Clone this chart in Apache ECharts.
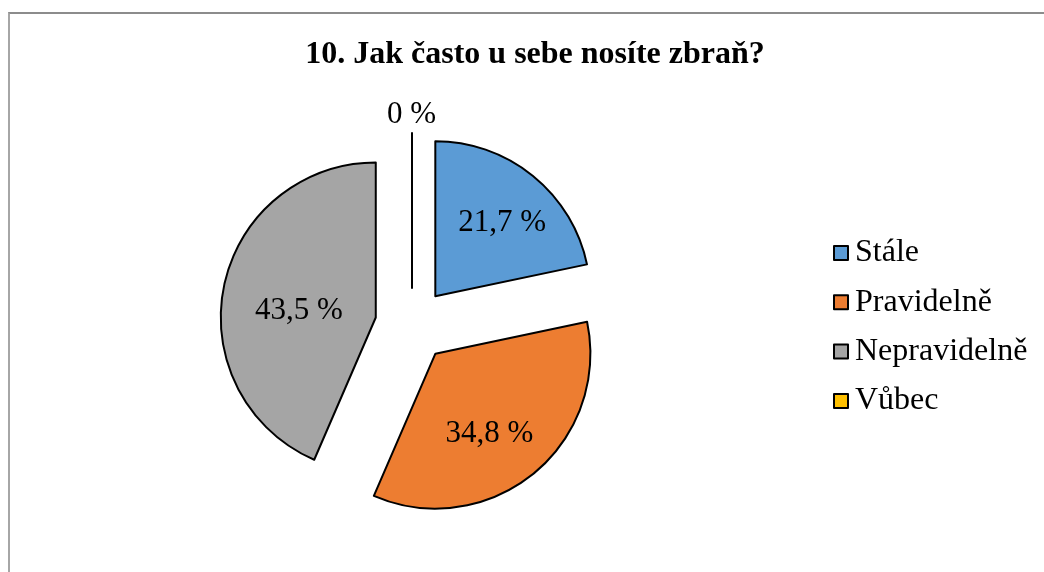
<!DOCTYPE html>
<html>
<head>
<meta charset="utf-8">
<script src="https://cdn.jsdelivr.net/npm/echarts@6/dist/echarts.min.js"></script>
<style>
  html, body { margin: 0; padding: 0; background: #fff; }
  #frame {
    position: absolute; left: 8px; top: 12px; width: 1040px; height: 570px;
    border-top: 2px solid #8c8c8c; border-left: 2px solid #a6a6a6;
  }
  #chart { position: absolute; left: 0; top: 0; width: 1044px; height: 572px; }
</style>
</head>
<body>
<div id="frame"></div>
<div id="chart"></div>
<script>
// data
const titleText = '10. Jak často u sebe nosíte zbraň?';
const categories = ['Stále', 'Pravidelně', 'Nepravidelně', 'Vůbec'];
const percents = [21.7, 34.8, 43.5, 0];
const colors = ['#5B9BD5', '#ED7D31', '#A5A5A5', '#FFC000'];

const serif = '"Liberation Serif", "Times New Roman", serif';
// small nudges so the labels sit where Excel put them
const labelNudges = [[16, -11], [3, 18], [2, 10], [-30, -14]];

function fmt(v) {
  return v === 0 ? '0 %' : v.toFixed(1).replace('.', ',') + ' %';
}

let chart = echarts.init(document.getElementById('chart'));
chart.setOption({
  animation: false,
  color: colors,
  title: {
    text: titleText,
    left: 530,
    top: 34,
    textAlign: 'center',
    textStyle: { fontFamily: serif, fontWeight: 'bold', fontSize: 32, color: '#000' }
  },
  legend: {
    orient: 'vertical',
    left: 828,
    top: 232,
    itemWidth: 14,
    itemHeight: 14,
    itemGap: 17.3,
    icon: 'rect',
    selectedMode: false,
    data: categories,
    textStyle: { fontFamily: serif, fontSize: 32, color: '#000', padding: [0, 0, 0, 2] }
  },
  series: [{
    type: 'pie',
    center: [412, 325],
    radius: 155,
    startAngle: 90,
    clockwise: true,
    selectedMode: 'multiple',
    selectedOffset: 37,
    avoidLabelOverlap: false,
    emphasis: { disabled: true },
    itemStyle: { borderColor: '#000', borderWidth: 2 },
    label: {
      position: 'inside',
      fontFamily: serif,
      fontSize: 31,
      color: '#000',
      formatter: p => fmt(p.value)
    },
    labelLine: { show: false },
    labelLayout: p => ({ dx: labelNudges[p.dataIndex][0], dy: labelNudges[p.dataIndex][1] }),
    data: categories.map((name, i) => {
      const item = { name: name, value: percents[i], selected: true };
      if (percents[i] === 0) {
        item.label = { position: 'outside' };
        item.labelLine = { show: false, length: 4, length2: 0 };
      }
      return item;
    })
  }]
});
</script>
</body>
</html>
